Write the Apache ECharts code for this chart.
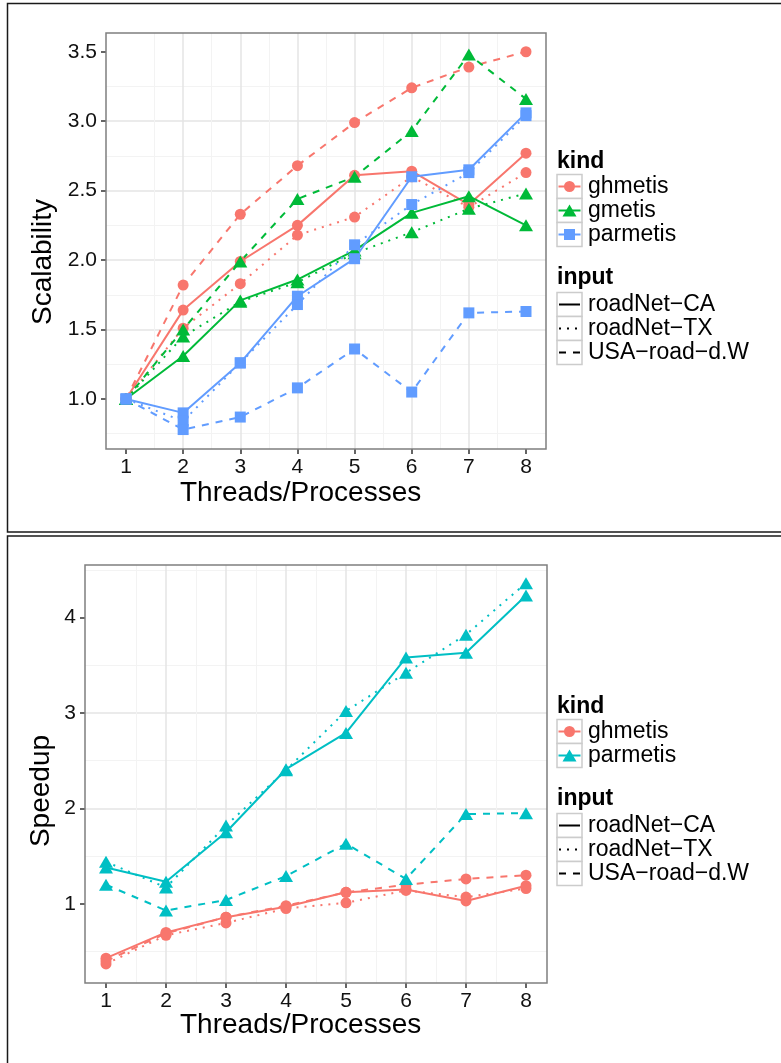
<!DOCTYPE html>
<html>
<head>
<meta charset="utf-8">
<title>Scalability and speedup</title>
<script src="https://cdn.jsdelivr.net/npm/echarts@6/dist/echarts.min.js"></script>
<style>
html, body { margin: 0; padding: 0; background: #fff; }
#main { width: 781px; height: 1063px; }
</style>
</head>
<body>
<div id="main"></div>
<script>
// ---- data ----
var threads = [1, 2, 3, 4, 5, 6, 7, 8];
var inputs = ['roadNet\u2212CA', 'roadNet\u2212TX', 'USA\u2212road\u2212d.W'];

// top: scalability
var scalKinds = ['ghmetis', 'gmetis', 'parmetis'];
var scalGhmetisCA  = [1.00, 1.64, 1.99, 2.25, 2.61, 2.64, 2.40, 2.77];
var scalGhmetisTX  = [1.00, 1.51, 1.83, 2.18, 2.31, 2.60, 2.38, 2.63];
var scalGhmetisUSA = [1.00, 1.82, 2.33, 2.68, 2.99, 3.24, 3.39, 3.50];
var scalGmetisCA   = [1.00, 1.31, 1.71, 1.86, 2.07, 2.34, 2.46, 2.25];
var scalGmetisTX   = [1.00, 1.45, 1.70, 1.84, 2.05, 2.20, 2.37, 2.48];
var scalGmetisUSA  = [1.00, 1.50, 1.99, 2.44, 2.60, 2.93, 3.48, 3.16];
var scalParmetisCA = [1.00, 0.90, 1.26, 1.74, 2.01, 2.60, 2.65, 3.06];
var scalParmetisTX = [1.00, 0.84, 1.26, 1.68, 2.11, 2.40, 2.63, 3.04];
var scalParmetisUSA= [1.00, 0.78, 0.87, 1.08, 1.36, 1.05, 1.62, 1.63];
var scalTicks = [1.0, 1.5, 2.0, 2.5, 3.0, 3.5];

// bottom: speedup
var speedKinds = ['ghmetis', 'parmetis'];
var speedGhmetisCA  = [0.43, 0.70, 0.86, 0.97, 1.12, 1.15, 1.03, 1.19];
var speedGhmetisTX  = [0.37, 0.67, 0.80, 0.95, 1.01, 1.14, 1.07, 1.16];
var speedGhmetisUSA = [0.40, 0.69, 0.86, 0.98, 1.12, 1.20, 1.26, 1.30];
var speedParmetisCA = [1.38, 1.23, 1.75, 2.41, 2.79, 3.58, 3.63, 4.23];
var speedParmetisTX = [1.44, 1.17, 1.82, 2.40, 3.02, 3.42, 3.82, 4.36];
var speedParmetisUSA= [1.20, 0.93, 1.04, 1.29, 1.63, 1.26, 1.94, 1.95];
var speedTicks = [1, 2, 3, 4];

// ---- style ----
var FONT = '"Liberation Sans", Arial, sans-serif';
var scalColors = ['#F8766D', '#00BA38', '#619CFF'];
var speedColors = ['#F8766D', '#00BFC4'];
var shapeOrder = ['circle', 'triangle', 'rect'];   // ggplot default shapes by kind index
var symbolSizes = { circle: 11, triangle: [14, 12], rect: 11 };
var dashTypes = ['solid', [2, 6], [7, 7]];

var scalSets = [
  [scalGhmetisCA, scalGhmetisTX, scalGhmetisUSA],
  [scalGmetisCA, scalGmetisTX, scalGmetisUSA],
  [scalParmetisCA, scalParmetisTX, scalParmetisUSA]
];
var speedSets = [
  [speedGhmetisCA, speedGhmetisTX, speedGhmetisUSA],
  [speedParmetisCA, speedParmetisTX, speedParmetisUSA]
];

function buildSeries(kinds, colors, sets, g) {
  var lines = [], points = [];
  kinds.forEach(function (kind, k) {
    sets[k].forEach(function (vals, i) {
      var data = threads.map(function (t, j) { return [t, vals[j]]; });
      lines.push({
        type: 'line', name: kind + ' ' + inputs[i], xAxisIndex: g, yAxisIndex: g,
        data: data, showSymbol: false, symbol: 'none', silent: true, z: 2,
        lineStyle: { color: colors[k], width: 2, type: dashTypes[i], cap: 'butt' }
      });
      var sym = shapeOrder[k];
      points.push({
        type: 'scatter', name: kind + ' ' + inputs[i], xAxisIndex: g, yAxisIndex: g,
        data: data, symbol: sym, symbolSize: symbolSizes[sym], silent: true, z: 3,
        itemStyle: { color: colors[k], opacity: 1 }
      });
    });
  });
  return lines.concat(points);
}

function xAxisCfg(g) {
  return {
    type: 'value', gridIndex: g, min: 0.65, max: 8.35,
    splitNumber: 8, minInterval: 1, maxInterval: 1,
    axisLine: { show: false },
    axisTick: { show: true, length: 5, customValues: threads, lineStyle: { color: '#333', width: 1.5 } },
    axisLabel: { customValues: threads, margin: 8, fontSize: 21, fontFamily: FONT, color: '#111',
      formatter: function (v) { return threads.indexOf(v) >= 0 ? String(v) : ''; } },
    splitLine: { show: true, showMinLine: false, showMaxLine: false, lineStyle: { color: '#e4e4e4', width: 1.5 } },
    minorTick: { show: false, splitNumber: 2 },
    minorSplitLine: { show: true, lineStyle: { color: '#f3f3f3', width: 1 } }
  };
}

function yAxisCfg(g, min, max, step, ticks, digits) {
  return {
    type: 'value', gridIndex: g, min: min, max: max,
    splitNumber: Math.round((max - min) / step), minInterval: step, maxInterval: step,
    axisLine: { show: false },
    axisTick: { show: true, length: 5, customValues: ticks, lineStyle: { color: '#333', width: 1.5 } },
    axisLabel: { customValues: ticks, margin: 9, fontSize: 21, fontFamily: FONT, color: '#111',
      formatter: function (v) { return ticks.indexOf(v) >= 0 ? v.toFixed(digits) : ''; } },
    splitLine: { show: true, showMinLine: false, showMaxLine: false, lineStyle: { color: '#e4e4e4', width: 1.5 } },
    minorTick: { show: false, splitNumber: 2 },
    minorSplitLine: { show: true, lineStyle: { color: '#f3f3f3', width: 1 } }
  };
}

// ---- legends and frames (drawn as graphics) ----
var graphics = [];
function text(x, y, str, size, bold, extra) {
  var el = { type: 'text', x: x, y: y, silent: true, z: 10,
    style: { text: str, fill: '#000', font: (bold ? 'bold ' : '') + size + 'px ' + FONT,
      align: 'left', verticalAlign: 'middle' } };
  for (var k in extra) el[k] = extra[k];
  if (extra && extra.align) el.style.align = extra.align;
  return el;
}
function keyBox(x, y) {
  return { type: 'rect', silent: true, z: 10, shape: { x: x, y: y, width: 25, height: 24 },
    style: { fill: '#fff', stroke: '#cccccc', lineWidth: 1.5 } };
}
function keyMarker(sym, cx, cy, color) {
  if (sym === 'circle') return { type: 'circle', silent: true, z: 11, shape: { cx: cx, cy: cy, r: 5.5 }, style: { fill: color } };
  if (sym === 'triangle') return { type: 'polygon', silent: true, z: 11,
    shape: { points: [[cx, cy - 6], [cx - 7, cy + 6], [cx + 7, cy + 6]] }, style: { fill: color } };
  return { type: 'rect', silent: true, z: 11, shape: { x: cx - 5.5, y: cy - 5.5, width: 11, height: 11 }, style: { fill: color } };
}
function legend(x, titleY, kinds, colors) {
  graphics.push(text(x, titleY, 'kind', 23, true));
  var top = titleY + 12.5;
  kinds.forEach(function (kind, i) {
    var y = top + 24 * i;
    graphics.push(keyBox(x, y));
    graphics.push({ type: 'line', silent: true, z: 11, shape: { x1: x + 1.5, y1: y + 12, x2: x + 23.5, y2: y + 12 },
      style: { stroke: colors[i], lineWidth: 2 } });
    graphics.push(keyMarker(shapeOrder[i], x + 12.5, y + 12, colors[i]));
    graphics.push(text(x + 31, y + 12, kind, 23, false));
  });
  var inTitle = top + 24 * kinds.length + 31.5;
  graphics.push(text(x, inTitle, 'input', 23, true));
  var top2 = inTitle + 14.5;
  inputs.forEach(function (inp, i) {
    var y = top2 + 24 * i;
    graphics.push(keyBox(x, y));
    var dash = dashTypes[i] === 'solid' ? null : dashTypes[i];
    graphics.push({ type: 'line', silent: true, z: 11, shape: { x1: x + 2, y1: y + 12, x2: x + 23, y2: y + 12 },
      style: { stroke: '#000', lineWidth: 2, lineDash: dash } });
    graphics.push(text(x + 31, y + 12, inp, 23, false));
  });
}
legend(557, 162, scalKinds, scalColors);
legend(557, 707, speedKinds, speedColors);

// axis titles
graphics.push(text(180, 493, 'Threads/Processes', 28, false));
graphics.push(text(180, 1025, 'Threads/Processes', 28, false));
graphics.push(text(43, 262, 'Scalability', 28, false, { rotation: Math.PI / 2, align: 'center' }));
graphics.push(text(41, 791, 'Speedup', 28, false, { rotation: Math.PI / 2, align: 'center' }));

// panel frames
graphics.push({ type: 'rect', silent: true, z: 12, shape: { x: 7.5, y: 3.5, width: 800, height: 528.5 },
  style: { fill: 'none', stroke: '#1a1a1a', lineWidth: 1.5 } });
graphics.push({ type: 'rect', silent: true, z: 12, shape: { x: 7.5, y: 536, width: 800, height: 600 },
  style: { fill: 'none', stroke: '#1a1a1a', lineWidth: 1.5 } });

var chart = echarts.init(document.getElementById('main'), null, { renderer: 'canvas' });
chart.setOption({
  animation: false,
  backgroundColor: '#fff',
  grid: [
    { left: 106, top: 33, width: 440, height: 416, show: true, z: 1,
      backgroundColor: 'transparent', borderColor: '#7f7f7f', borderWidth: 1.5 },
    { left: 85, top: 565, width: 462, height: 418, show: true, z: 1,
      backgroundColor: 'transparent', borderColor: '#7f7f7f', borderWidth: 1.5 }
  ],
  xAxis: [xAxisCfg(0), xAxisCfg(1)],
  yAxis: [
    yAxisCfg(0, 0.64, 3.635, 0.5, scalTicks, 1),
    yAxisCfg(1, 0.17, 4.55, 1, speedTicks, 0)
  ],
  series: buildSeries(scalKinds, scalColors, scalSets, 0).concat(buildSeries(speedKinds, speedColors, speedSets, 1)),
  graphic: graphics
});
</script>
</body>
</html>
